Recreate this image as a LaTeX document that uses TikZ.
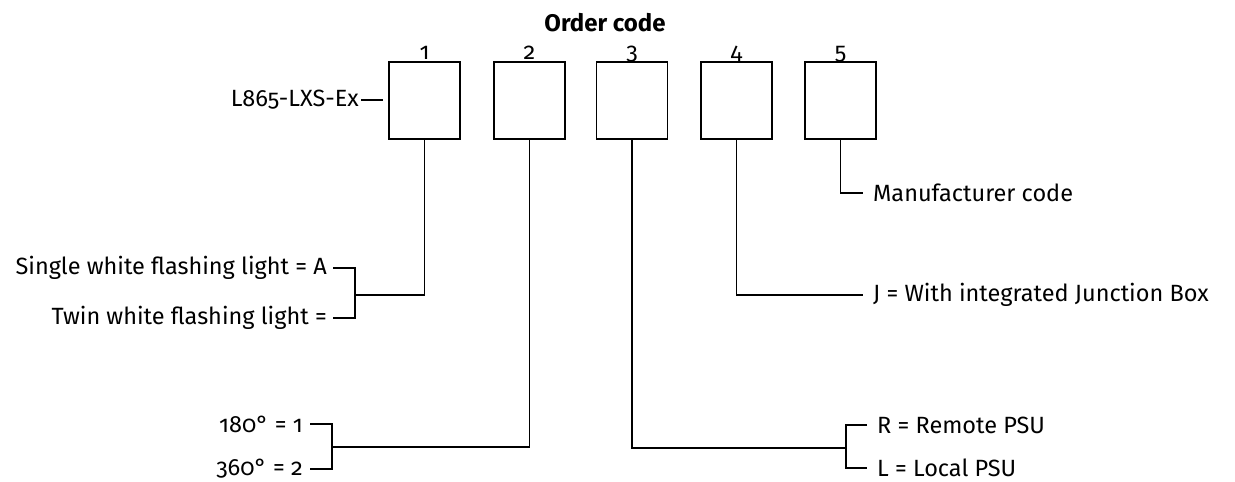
\documentclass[tikz,border=0pt]{standalone}
\usepackage{fontspec}
\setmainfont{Fira Sans}[Numbers=OldStyle]
\usetikzlibrary{positioning}

\tikzset{
    digit/.style={draw, line width=1.8pt, minimum width=71pt, minimum height=77pt, inner sep=0pt},
    lbl/.style={font=\fontsize{23.5}{27}\selectfont, inner sep=0pt},
    lead/.style={line width=1.8pt},
}

\begin{document}
\begin{tikzpicture}[x=1pt, y=-1pt]
\useasboundingbox (0,0) rectangle (1235,482);
% title and the five code positions
\node[lbl, font=\fontsize{24}{28}\selectfont\bfseries] (title) at (605,23) {Order code};
\foreach \i/\x in {1/424.5, 2/529.5, 3/632, 4/736.5, 5/840.5} {
    \node[digit] (b\i) at (\x,100.5) {};
    \node[lbl, anchor=base] (n\i) at ([yshift=2pt]b\i.north) {\i};
}
% type designation
\node[lbl, anchor=east, inner xsep=2pt] (type) at (361,100) {L865-LXS-Ex};
\coordinate (typeend) at (383,100);
\draw[lead] (type.east) -- (typeend);

% position 1
\node[lbl, anchor=east, inner xsep=6pt] (single) at (333,268) {Single white flashing light = A};
\node[lbl, anchor=east, inner xsep=6pt] (twin) at (333,318) {Twin white flashing light =};
\coordinate (k1) at (355,295);
\draw[lead] (single.east) -| (k1) |- (twin.east);
\draw[lead] (b1.south) |- (k1);

% position 2
\node[lbl, anchor=east, inner xsep=7pt] (deg180) at (310,424) {180° = 1};
\node[lbl, anchor=east, inner xsep=7pt] (deg360) at (310,469) {360° = 2};
\coordinate (k2) at (332,447);
\draw[lead] (deg180.east) -| (k2) |- (deg360.east);
\draw[lead] (b2.south) |- (k2);

% position 3
\node[lbl, anchor=west, inner xsep=10pt] (remote) at (867,425) {R = Remote PSU};
\node[lbl, anchor=west, inner xsep=10pt] (local) at (867,468) {L = Local PSU};
\coordinate (k3) at (846,448);
\draw[lead] (remote.west) -| (k3) |- (local.west);
\draw[lead] (b3.south) |- (k3);

% position 4
\node[lbl, anchor=west, inner xsep=10pt] (jbox) at (863,295) {J = With integrated Junction Box};
\draw[lead] (b4.south) |- (jbox.west);

% position 5
\node[lbl, anchor=west, inner xsep=10pt] (maker) at (863,193) {Manufacturer code};
\draw[lead] (b5.south) |- (maker.west);
\end{tikzpicture}
\end{document}
